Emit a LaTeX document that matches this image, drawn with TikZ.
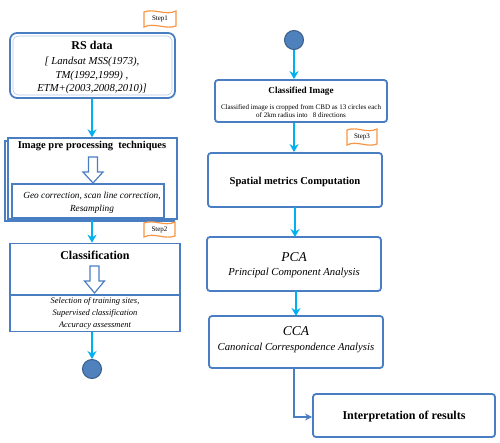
\documentclass[tikz,border=0pt]{standalone}
\usepackage{fontspec}
\setmainfont{Liberation Serif}
\usetikzlibrary{arrows.meta}
\definecolor{bblue}{RGB}{74,126,194}
\definecolor{lblue}{RGB}{180,200,230}
\definecolor{acyan}{RGB}{0,176,240}
\definecolor{sorange}{RGB}{247,150,70}
\definecolor{cfill}{RGB}{79,129,189}
\definecolor{cdraw}{RGB}{56,93,138}
\newcommand{\fs}[2]{\fontsize{#1}{#2}\selectfont}
\tikzset{
  box/.style={draw=bblue, line width=1.8pt, rounded corners=3pt, fill=white, inner sep=0pt},
  sqbox/.style={draw=bblue, line width=1.4pt, fill=white, inner sep=0pt},
  flow/.style={draw=acyan, line width=2pt, -{Stealth[length=8pt,width=9pt]}},
  elbow/.style={draw=bblue, line width=1.6pt, -{Stealth[length=7pt,width=7pt]}},
  endpt/.style={circle, draw=cdraw, fill=cfill, minimum size=19pt, inner sep=0pt, line width=1pt},
  steptag/.style={draw=sorange, line width=1.2pt, fill=white},
  hollow/.style={draw=bblue, line width=1.2pt, fill=white, line join=miter},
  txt/.style={inner sep=0pt, align=center},
}
\begin{document}
\begin{tikzpicture}[x=1pt,y=-1pt]
\useasboundingbox (0,0) rectangle (500,442);

% ---------- left column ----------
% Step1 tag
\draw[steptag] (144,12) .. controls (154,8) and (166,16) .. (176,11) -- (176,26)
  .. controls (166,30) and (154,22) .. (144,27) -- cycle;
\node[txt, font=\fs{7}{8}] (s1) at (160,19) {Step1};

% RS data
\node[box, rounded corners=7pt, minimum width=165pt, minimum height=65pt] (rs) at (92.5,65.5) {};
\draw[lblue, line width=0.6pt, rounded corners=5pt] (13,36) rectangle (172,95);
\node[txt, font=\fs{12}{14}\bfseries] (rst) at (92,45) {RS data};
\node[txt, font=\fs{10.7}{13.5}\itshape] (rsl) at (92,75.5) {[ Landsat MSS(1973),\\
  TM(1992,1999) ,\\ ETM+(2003,2008,2010)]};

% Image pre processing
\draw[bblue, line width=1.2pt] (5,141) rectangle (174,221);
\node[sqbox, minimum width=169pt, minimum height=81pt] (pre) at (92.5,178.5) {};
\node[txt, font=\fs{10.5}{12}\bfseries] (pret) at (92,146) {Image pre processing\ \ techniques};
\draw[hollow] (88.5,157) -- (97.5,157) -- (97.5,172) -- (103,172) -- (93,183) -- (83,172)
  -- (88.5,172) -- cycle;
\node[sqbox, minimum width=152pt, minimum height=34pt] (geo) at (88,201) {};
\node[txt, font=\fs{9.3}{13}\itshape] (geot) at (92,202.5) {Geo correction, scan line correction,\\
  Resampling};

% Step2 tag
\draw[steptag] (144,223) .. controls (154,219) and (165,227) .. (175,222) -- (175,236)
  .. controls (165,240) and (154,232) .. (144,237) -- cycle;
\node[txt, font=\fs{7}{8}] (s2) at (159.5,229.5) {Step2};

% Classification
\node[sqbox, line width=1.6pt, minimum width=170pt, minimum height=88pt] (cls) at (95,287.5) {};
\draw[bblue, line width=1.2pt] (10,295) -- (180,295);
\node[txt, font=\fs{12}{14}\bfseries] (clst) at (95,255) {Classification};
\draw[hollow] (90,266) -- (99,266) -- (99,281) -- (104.5,281) -- (94.5,293) -- (84.5,281)
  -- (90,281) -- cycle;
\node[txt, font=\fs{8.5}{12.2}\itshape] (clsl) at (95,313.5) {Selection of training sites,\\
  Supervised classification\\ Accuracy assessment};

\node[endpt] (c1) at (92,369) {};

\draw[flow] (rs.south -| c1) -- (pre.north -| c1);
\draw[flow] (pre.south -| c1) -- (cls.north -| c1);
\draw[flow] (cls.south -| c1) -- (c1.north);

% ---------- right column ----------
\node[endpt] (c2) at (294,40) {};

\node[box, minimum width=172pt, minimum height=42pt] (ci) at (301,101) {};
\node[txt, font=\fs{9.2}{11}\bfseries] (cit) at (301,91) {Classified Image};
\node[txt, font=\fs{7}{8.5}] (cil) at (301,111) {Classified image is cropped from CBD as 13 circles each\\
  of 2km radius into\ \ \ 8 directions};

% Step3 tag
\draw[steptag] (347,130) .. controls (357,126) and (367,134) .. (377,129) -- (377,144)
  .. controls (367,148) and (357,140) .. (347,145) -- cycle;
\node[txt, font=\fs{7}{8}] (s3) at (362,137) {Step3};

\node[box, minimum width=174pt, minimum height=54pt] (sp) at (295,180) {};
\node[txt, font=\fs{10.6}{12}\bfseries] (spt) at (295,182) {Spatial metrics Computation};

\node[box, minimum width=174pt, minimum height=54pt] (pca) at (294,264) {};
\node[txt, font=\fs{13.5}{15}\itshape] (pcat) at (294,257) {PCA};
\node[txt, font=\fs{10.7}{12}\itshape] (pcas) at (294,273) {Principal Component Analysis};

\node[box, minimum width=174pt, minimum height=52pt] (cca) at (296,342) {};
\node[txt, font=\fs{13.5}{15}\itshape] (ccat) at (296,331) {CCA};
\node[txt, font=\fs{10.7}{12}\itshape] (ccas) at (296,348) {Canonical Correspondence Analysis};

\node[box, minimum width=182pt, minimum height=43pt] (int) at (404,415.5) {};
\node[txt, font=\fs{12}{14}\bfseries] (intt) at (404,417) {Interpretation of results};

\draw[flow] (c2.south) -- (c2.south |- ci.north);
\draw[flow] (ci.south -| c2) -- (sp.north -| c2);
\draw[flow] (295,207) -- (295,237);
\draw[flow] (296,291) -- (296,316);
\coordinate (bend) at (294,417);
\draw[elbow] (cca.south -| bend) -- (bend) -- (int.west |- bend);
\end{tikzpicture}
\end{document}
